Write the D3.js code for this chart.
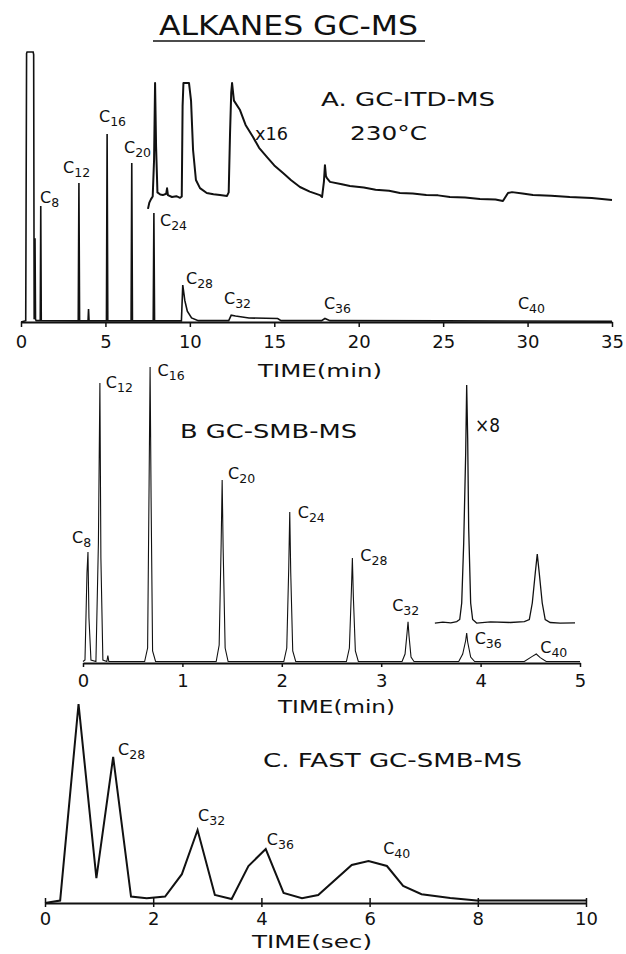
<!DOCTYPE html>
<html>
<head>
<meta charset="utf-8">
<script src="https://cdn.jsdelivr.net/npm/d3@7"></script>
<style>
  body { margin: 0; background: #fff; }
  svg { display: block; }
  text { font-family: "DejaVu Sans", sans-serif; fill: #111; }
</style>
</head>
<body>
<svg id="chart" width="626" height="954"></svg>
<script>
// ---- data (time, signal) ----
// A: GC-ITD-MS, time in min
const ticksA = [0, 5, 10, 15, 20, 25, 30, 35];
const traceA = [
  [0, 0], [0.28, 0.5], [0.33, 99.5], [0.36, 100], [0.72, 100], [0.75, 99], [0.78, 1],
  [0.80, 30], [0.83, 31], [0.86, 1], [0.9, 0.5], [1.14, 0.5], [1.17, 43], [1.2, 0.5],
  [3.39, 0.4], [3.43, 51.5], [3.47, 0.4], [3.97, 0.4], [4.0, 4.8], [4.03, 0.4],
  [5.06, 0.4], [5.1, 69.6], [5.14, 0.4], [6.52, 0.4], [6.56, 58.9], [6.6, 0.4],
  [7.83, 0.4], [7.87, 40.4], [7.91, 0.4], [9.5, 0.4], [9.58, 13.7], [9.7, 8],
  [9.85, 4], [10.1, 1.5], [10.5, 0.5], [12.3, 0.5], [12.45, 2.5], [12.7, 2.2],
  [13.5, 1.5], [15.2, 1.3], [15.4, 0.5], [17.8, 0.5], [18.0, 1.3], [18.3, 0.5],
  [25, 0.4], [35, 0.3]
];
const traceA16 = [
  [7.52, 41.9], [7.6, 44.2], [7.7, 45.5], [7.8, 46.5], [7.88, 60], [7.94, 88.5],
  [8.0, 65], [8.08, 48], [8.25, 47.2], [8.4, 47], [8.6, 47.5], [8.65, 49.5], [8.7, 47],
  [8.94, 46.3], [9.2, 46.6], [9.42, 46], [9.52, 46.5], [9.57, 80], [9.62, 88.5],
  [9.95, 88.5], [10.07, 82], [10.19, 63.7], [10.36, 52.6], [10.6, 49.6], [11.0, 47.8],
  [11.4, 47.3], [11.78, 47], [12.2, 46.7], [12.3, 48], [12.38, 70], [12.45, 85],
  [12.5, 88.5], [12.61, 82], [12.97, 78.5], [13.3, 73], [13.74, 68.5], [14.1, 64.5],
  [14.57, 61.1], [15.0, 58], [15.52, 55.2], [16.0, 52.5], [16.52, 50], [17.1, 48.3],
  [17.7, 47], [17.83, 46.3], [17.94, 52], [18.0, 58.1], [18.06, 54], [18.12, 53.3],
  [18.3, 51.9], [19.0, 51], [19.48, 50.4], [20.3, 49.8], [21, 49], [21.8, 48.6],
  [22.44, 47.8], [23.2, 47.6], [24, 47], [24.7, 46.9], [25.4, 46.3], [26.3, 46.1],
  [27.18, 45.6], [28.1, 45.4], [28.54, 44.8], [28.84, 47.8], [29.08, 48.1],
  [29.7, 47.6], [30.32, 47], [31.4, 46.8], [32.5, 46.3], [33.8, 45.9], [35.0, 45.2]
];
const carbonA = ["8", "12", "16", "20", "24", "28", "32", "36", "40"];
const carbonAT = [1.13, 2.49, 4.62, 6.10, 8.23, 9.77, 12.02, 17.94, 29.43];
const carbonAV = [44.1, 55.2, 74.1, 62.6, 35.6, 14.1, 6.7, 4.8, 4.8];

// B: GC-SMB-MS, time in min
const ticksB = [0, 1, 2, 3, 4, 5];
const traceB = [
  [0, 0.5], [0.02, 1], [0.04, 30], [0.05, 37], [0.06, 15], [0.08, 1], [0.13, 0.5],
  [0.155, 40], [0.17, 93.3], [0.18, 35], [0.2, 1], [0.24, 0.5], [0.25, 2.5], [0.26, 0.5],
  [0.62, 0.5], [0.65, 5], [0.665, 60], [0.675, 98.7], [0.685, 55], [0.7, 4], [0.73, 0.5],
  [1.34, 0.5], [1.37, 6], [1.39, 40], [1.40, 61], [1.41, 38], [1.43, 5], [1.46, 0.5],
  [2.02, 0.5], [2.05, 5], [2.07, 32], [2.08, 50.3], [2.09, 30], [2.11, 4], [2.14, 0.5],
  [2.65, 0.5], [2.68, 5], [2.70, 24], [2.71, 35], [2.72, 22], [2.74, 4], [2.77, 0.5],
  [3.21, 0.5], [3.24, 3], [3.26, 10], [3.27, 13.7], [3.28, 9], [3.30, 2], [3.33, 0.5],
  [3.78, 0.5], [3.82, 3], [3.85, 7.5], [3.86, 10], [3.87, 7], [3.9, 2], [3.94, 0.5],
  [4.44, 0.5], [4.52, 2.2], [4.56, 3], [4.6, 1.8], [4.66, 0.5], [5.0, 0.5]
];
const traceB8 = [
  [3.54, 13.3], [3.62, 13.6], [3.7, 13.4], [3.76, 13.8], [3.79, 14.5], [3.81, 20],
  [3.83, 40], [3.85, 70], [3.86, 92.7], [3.87, 75], [3.88, 45], [3.90, 20], [3.92, 14.5],
  [3.96, 13.3], [4.1, 13.7], [4.3, 13.5], [4.44, 13.8], [4.49, 14.5], [4.52, 20],
  [4.55, 30], [4.57, 36.3], [4.59, 30], [4.62, 20], [4.65, 14.5], [4.7, 13.5],
  [4.8, 13.3], [4.95, 13.4]
];
const carbonB = ["8", "12", "16", "20", "24", "28", "32", "36", "40"];
const carbonBT = [-0.11, 0.23, 0.75, 1.46, 2.16, 2.79, 3.11, 3.94, 4.60];
const carbonBV = [40, 91.7, 95.7, 61.3, 48.3, 34, 17.3, 6.3, 3.3];

// C: fast GC-SMB-MS, time in sec
const ticksC = [0, 2, 4, 6, 8, 10];
const traceC = [
  [0, 0], [0.28, 1.2], [0.62, 99.5], [0.95, 12.4], [1.26, 73], [1.59, 3.2], [1.88, 2.4],
  [2.22, 3.2], [2.53, 14.4], [2.82, 36.5], [3.14, 4], [3.45, 2], [3.76, 18.5],
  [4.08, 27], [4.41, 5], [4.75, 2.4], [5.05, 4], [5.67, 19], [5.98, 21], [6.32, 18.5],
  [6.62, 8.5], [6.96, 4.4], [7.49, 2.5], [7.98, 1.2], [10, 1.2]
];
const carbonC = ["28", "32", "36", "40"];
const carbonCT = [1.35, 2.83, 4.10, 6.25];
const carbonCV = [74, 41, 29, 24.5];

// ---- drawing ----
let svg = d3.select("#chart");
let ink = "#111";

function addCarbon(g, x, y, n) {
  let t = g.append("text").attr("x", x).attr("y", y).style("font-size", "16px");
  t.append("tspan").text("C");
  t.append("tspan").attr("dy", 4).style("font-size", "12.5px").text(n);
}

function addLabel(x, y, str, size, len) {
  svg.append("text")
    .attr("x", x).attr("y", y)
    .attr("textLength", len).attr("lengthAdjust", "spacingAndGlyphs")
    .style("font-size", size + "px")
    .text(str);
}

function drawAxis(x, y0, ticks, tickSize, labelY, fontSize) {
  let g = svg.append("g")
    .attr("transform", "translate(0," + y0 + ")")
    .call(d3.axisBottom(x).tickValues(ticks).tickSize(tickSize).tickSizeOuter(0).tickFormat(d3.format("d")));
  g.select(".domain").attr("stroke", ink).attr("stroke-width", 2);
  g.selectAll(".tick line").attr("stroke", ink).attr("stroke-width", 1.5);
  g.selectAll(".tick text")
    .attr("y", labelY).attr("dy", null)
    .style("font-family", "DejaVu Sans")
    .style("font-size", fontSize + "px")
    .attr("fill", ink);
  return g;
}

// title
addLabel(159, 35, "ALKANES GC-MS", 27, 259);
svg.append("line").attr("x1", 153).attr("x2", 425).attr("y1", 41).attr("y2", 41)
  .attr("stroke", ink).attr("stroke-width", 1.5);

// panel A
let xA = d3.scaleLinear().domain([0, 35]).range([21, 612]);
let yA = d3.scaleLinear().domain([0, 100]).range([322, 52]);
let lineA = d3.line().x(d => xA(d[0])).y(d => yA(d[1]));
svg.append("path").attr("d", lineA(traceA))
  .attr("fill", "none").attr("stroke", ink).attr("stroke-width", 1.6);
svg.append("path").attr("d", lineA(traceA16))
  .attr("fill", "none").attr("stroke", ink).attr("stroke-width", 2).attr("stroke-linejoin", "round");
drawAxis(xA, 322, ticksA, 5, 26, 18);
let gA = svg.append("g");
carbonA.forEach((n, i) => addCarbon(gA, xA(carbonAT[i]), yA(carbonAV[i]), n));
addLabel(321, 106, "A. GC-ITD-MS", 19, 174);
addLabel(350, 140, "230°C", 19, 77);
addLabel(255, 140, "x16", 18, 33);
addLabel(258, 377, "TIME(min)", 17, 124);

// panel B
let xB = d3.scaleLinear().domain([0, 5]).range([83, 580]);
let yB = d3.scaleLinear().domain([0, 100]).range([663, 363]);
let lineB = d3.line().x(d => xB(d[0])).y(d => yB(d[1]));
svg.append("path").attr("d", lineB(traceB))
  .attr("fill", "none").attr("stroke", ink).attr("stroke-width", 1.1);
svg.append("path").attr("d", lineB(traceB8))
  .attr("fill", "none").attr("stroke", ink).attr("stroke-width", 1.3);
drawAxis(xB, 663, ticksB, 4, 24, 18);
let gB = svg.append("g");
carbonB.forEach((n, i) => addCarbon(gB, xB(carbonBT[i]), yB(carbonBV[i]), n));
addLabel(180, 438, "B GC-SMB-MS", 19, 177);
addLabel(475, 432, "×8", 19, 25);
addLabel(278, 713, "TIME(min)", 18, 117);

// panel C
let xC = d3.scaleLinear().domain([0, 10]).range([45, 586]);
let yC = d3.scaleLinear().domain([0, 100]).range([903, 703]);
let lineC = d3.line().x(d => xC(d[0])).y(d => yC(d[1]));
svg.append("path").attr("d", lineC(traceC))
  .attr("fill", "none").attr("stroke", ink).attr("stroke-width", 2);
let axC = drawAxis(xC, 903, ticksC, 5, 22, 18);
axC.selectAll(".tick line").attr("y1", -5).attr("y2", 4);
let gC = svg.append("g");
carbonC.forEach((n, i) => addCarbon(gC, xC(carbonCT[i]), yC(carbonCV[i]), n));
addLabel(263, 767, "C. FAST GC-SMB-MS", 19, 259);
addLabel(252, 948, "TIME(sec)", 17, 120);
</script>
</body>
</html>
